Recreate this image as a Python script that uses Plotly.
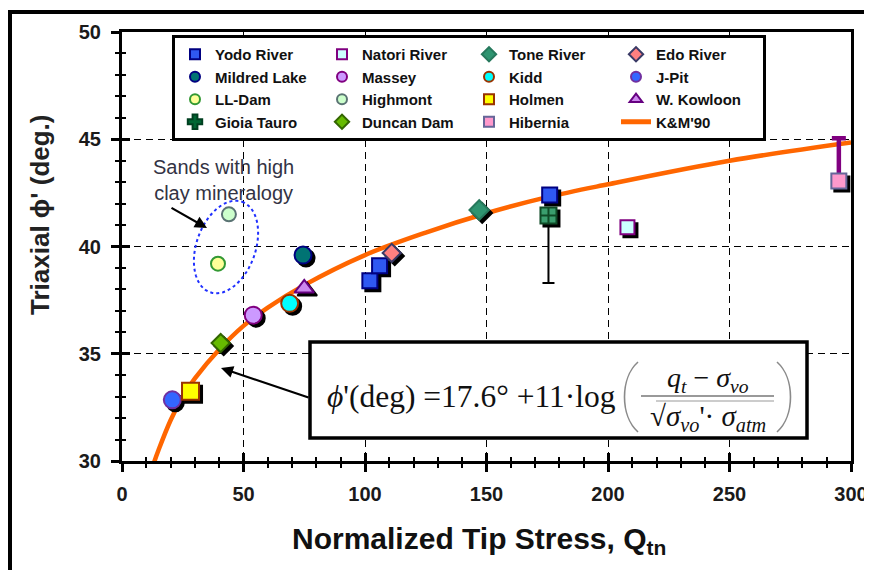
import numpy as np
import plotly.graph_objects as go

# ---------------- data ----------------
yodo_q = [102.0, 106.0, 176.0]
yodo_phi = [38.4, 39.1, 42.4]
natori_q = [208.0]
natori_phi = [40.9]
tone_q = [147.0]
tone_phi = [41.7]
edo_q = [111.0]
edo_phi = [39.7]
mildred_q = [74.5]
mildred_phi = [39.6]
massey_q = [54.0]
massey_phi = [36.8]
kidd_q = [69.0]
kidd_phi = [37.35]
jpit_q = [20.7]
jpit_phi = [32.85]
lldam_q = [39.5]
lldam_phi = [39.2]
highmont_q = [44.0]
highmont_phi = [41.5]
holmen_q = [28.2]
holmen_phi = [33.25]
kowloon_q = [75.0]
kowloon_phi = [38.05]
gioia_q = [175.5]
gioia_phi = [41.45]
gioia_err_minus = [3.15]
duncan_q = [40.6]
duncan_phi = [35.5]
hibernia_q = [295.0]
hibernia_phi = [43.05]
hibernia_err_plus = [2.0]

km90_q = [12.0, 13.4, 15, 20, 25, 30, 40, 50, 60, 75, 100, 125, 150, 175, 200, 250, 300]
km90_phi = [29.5, 30.0, 30.5, 31.9, 33.0, 33.85, 35.2, 36.3, 37.15, 38.2, 39.6,
            40.65, 41.55, 42.3, 42.9, 44.0, 44.85]

x_ticks = [0, 50, 100, 150, 200, 250, 300]
x_ticktext = ["0", "50", "100", "150", "200", "250", "300"]
y_ticks = [30, 35, 40, 45, 50]
y_ticktext = ["30", "35", "40", "45", "50"]
X_RANGE = [0, 300]
Y_RANGE = [30, 50]

# ---------------- geometry ----------------
OFF = 8                      # the page body margin shifts the figure by 8 px
W, H = 872 - OFF, 570 - OFF
L, T = 122 - OFF, 32 - OFF   # plot area starts at (122, 32) in the picture
PW, PH = 732, 432
R = W - L - PW
B = H - T - PH
SH = 3  # shadow offset px
EX = SH / PW
EY = SH / PH
AX_W = PW * (1 - EX)
AX_H = PH * (1 - EY)

SANS = "Liberation Sans, Arial, sans-serif"
SERIF = "Liberation Serif, Times New Roman, serif"


# helpers take picture pixel positions
def dx(px):
    return X_RANGE[0] + (px - OFF - L) * (X_RANGE[1] - X_RANGE[0]) / AX_W


def dy(py):
    return Y_RANGE[1] - (py - OFF - T) * (Y_RANGE[1] - Y_RANGE[0]) / AX_H


def paper_x(px):
    return (px - OFF - L) / PW


def paper_y(py):
    return (H - B - (py - OFF)) / PH


# ---------------- series styles ----------------
S = {
    "Yodo River": dict(q=yodo_q, phi=yodo_phi, symbol="square", size=15, fill="#2F58F2", edge="#000080", shadow=True),
    "Natori River": dict(q=natori_q, phi=natori_phi, symbol="square", size=14, fill="#CCFFFF", edge="#800080", shadow=True),
    "Tone River": dict(q=tone_q, phi=tone_phi, symbol="diamond", size=15, fill="#2E9470", edge="#26785C", shadow=True),
    "Edo River": dict(q=edo_q, phi=edo_phi, symbol="diamond", size=14, fill="#FF8080", edge="#3A3A66", shadow=True),
    "Mildred Lake": dict(q=mildred_q, phi=mildred_phi, symbol="circle", size=17, fill="#007373", edge="#000080", shadow=True),
    "Massey": dict(q=massey_q, phi=massey_phi, symbol="circle", size=17, fill="#CC99FF", edge="#800080", shadow=True),
    "Kidd": dict(q=kidd_q, phi=kidd_phi, symbol="circle", size=17, fill="#00FFFF", edge="#993300", shadow=True),
    "J-Pit": dict(q=jpit_q, phi=jpit_phi, symbol="circle", size=17, fill="#3366FF", edge="#7030A0", shadow=True),
    "LL-Dam": dict(q=lldam_q, phi=lldam_phi, symbol="circle", size=14, fill="#FFFF99", edge="#339933", shadow=False),
    "Highmont": dict(q=highmont_q, phi=highmont_phi, symbol="circle", size=14, fill="#CCFFCC", edge="#5A7373", shadow=False),
    "Holmen": dict(q=holmen_q, phi=holmen_phi, symbol="square", size=17, fill="#FFFF00", edge="#993300", shadow=True),
    "W. Kowloon": dict(q=kowloon_q, phi=kowloon_phi, symbol="triangle-up", size=17, fill="#CC88EE", edge="#660080", shadow=True),
    "Gioia Tauro": dict(q=gioia_q, phi=gioia_phi, symbol="square-cross", size=16, fill="#3A9E6E", edge="#0E4A26", shadow=True),
    "Duncan Dam": dict(q=duncan_q, phi=duncan_phi, symbol="diamond", size=14, fill="#66BB00", edge="#336600", shadow=True),
    "Hibernia": dict(q=hibernia_q, phi=hibernia_phi, symbol="square", size=15, fill="#FF99CC", edge="#666699", shadow=True),
}
LEGEND_ORDER = ["Yodo River", "Natori River", "Tone River", "Edo River",
                "Mildred Lake", "Massey", "Kidd", "J-Pit",
                "LL-Dam", "Highmont", "Holmen", "W. Kowloon",
                "Gioia Tauro", "Duncan Dam", "Hibernia"]
DRAW_ORDER = ["Gioia Tauro", "Yodo River", "Edo River", "Natori River", "Tone River",
              "Mildred Lake", "Massey", "Kidd", "J-Pit", "LL-Dam", "Highmont",
              "Holmen", "W. Kowloon", "Duncan Dam", "Hibernia"]
ERRORS = {
    "Gioia Tauro": dict(type="data", symmetric=False, array=[0], arrayminus=gioia_err_minus,
                        color="black", thickness=2, width=6),
    "Hibernia": dict(type="data", symmetric=False, array=hibernia_err_plus, arrayminus=[0],
                     color="#800080", thickness=4.5, width=7),
}
LEGEND_SIZE = {"triangle-up": 11, "cross": 12, "diamond": 11}

fig = go.Figure()

# K&M'90 curve (base subplot)
fig.add_trace(go.Scatter(x=km90_q, y=km90_phi, mode="lines", line=dict(color="#FF6600", width=4.5, shape="spline"),
                         showlegend=False, hoverinfo="skip", xaxis="x", yaxis="y"))

# shadows (shifted subplot)
for name in DRAW_ORDER:
    s = S[name]
    if not s["shadow"]:
        continue
    fig.add_trace(go.Scatter(x=s["q"], y=s["phi"], mode="markers",
                             marker=dict(symbol=s["symbol"], size=s["size"], color="black",
                                         line=dict(color="black", width=2)),
                             showlegend=False, hoverinfo="skip", xaxis="x2", yaxis="y2"))

# markers (front subplot)
for name in DRAW_ORDER:
    s = S[name]
    kw = {}
    if name in ERRORS:
        kw["error_y"] = ERRORS[name]
    fig.add_trace(go.Scatter(x=s["q"], y=s["phi"], mode="markers", name=name,
                             marker=dict(symbol=s["symbol"], size=s["size"], color=s["fill"],
                                         line=dict(color=s["edge"], width=2)),
                             showlegend=False, xaxis="x3", yaxis="y3", **kw))

# legend-only entries
for name in LEGEND_ORDER:
    s = S[name]
    sym = s["symbol"]
    fill, edge = s["fill"], s["edge"]
    if name == "Gioia Tauro":
        sym, fill, edge = "cross", "#006633", "#004020"
    fig.add_trace(go.Scatter(x=[None], y=[None], mode="markers", name=name,
                             marker=dict(symbol=sym, size=LEGEND_SIZE.get(sym, 10),
                                         color=fill, line=dict(color=edge, width=2)),
                             xaxis="x", yaxis="y"))
fig.add_trace(go.Scatter(x=[None], y=[None], mode="lines", name="K&M'90",
                         line=dict(color="#FF6600", width=5), xaxis="x", yaxis="y"))

tickfont = dict(family=SANS, size=20, color="#1a1a1a", weight="bold")
common_x = dict(range=X_RANGE, tickvals=x_ticks, ticktext=x_ticktext, zeroline=False, fixedrange=True)
common_y = dict(range=Y_RANGE, tickvals=y_ticks, ticktext=y_ticktext, zeroline=False, fixedrange=True)

fig.update_layout(
    width=W, height=H,
    margin=dict(l=L, r=R, t=T, b=B, pad=0, autoexpand=False),
    paper_bgcolor="white", plot_bgcolor="rgba(0,0,0,0)",
    showlegend=True,
    legend=dict(orientation="h", x=paper_x(172), y=paper_y(35), xanchor="left", yanchor="top",
                entrywidth=102, entrywidthmode="pixels", bgcolor="white",
                bordercolor="black", borderwidth=3,
                font=dict(family=SANS, size=15, color="#111111", weight="bold"),
                traceorder="normal", tracegroupgap=0),
    xaxis=dict(domain=[0, 1 - EX], anchor="y", **common_x,
               showgrid=True, gridcolor="black", griddash="7px,5px", gridwidth=1.3,
               showline=True, linecolor="black", linewidth=3, mirror=True,
               ticks="outside", ticklen=8, tickwidth=3, tickcolor="black",
               minor=dict(tick0=0, dtick=10, ticks="outside", ticklen=4, tickwidth=2,
                          tickcolor="black", showgrid=False),
               tickfont=tickfont, ticklabelstandoff=5),
    yaxis=dict(domain=[EY, 1], anchor="x", **common_y,
               showgrid=True, gridcolor="black", griddash="7px,5px", gridwidth=1.3,
               showline=True, linecolor="black", linewidth=3, mirror=True,
               ticks="outside", ticklen=8, tickwidth=3, tickcolor="black",
               minor=dict(tick0=30, dtick=1, ticks="outside", ticklen=4, tickwidth=2,
                          tickcolor="black", showgrid=False),
               tickfont=tickfont, ticklabelstandoff=6),
    xaxis2=dict(domain=[EX, 1], anchor="y2", range=X_RANGE, visible=False, fixedrange=True),
    yaxis2=dict(domain=[0, 1 - EY], anchor="x2", range=Y_RANGE, visible=False, fixedrange=True),
    xaxis3=dict(domain=[0, 1 - EX], anchor="y3", **common_x, showgrid=False, showline=False,
                ticks="inside", ticklen=8, tickwidth=3, tickcolor="black", showticklabels=False,
                minor=dict(tick0=0, dtick=10, ticks="inside", ticklen=4, tickwidth=2,
                           tickcolor="black", showgrid=False)),
    yaxis3=dict(domain=[EY, 1], anchor="x3", **common_y, showgrid=False, showline=False,
                ticks="inside", ticklen=8, tickwidth=3, tickcolor="black", showticklabels=False,
                minor=dict(tick0=30, dtick=1, ticks="inside", ticklen=4, tickwidth=2,
                           tickcolor="black", showgrid=False)),
)

shapes = []
# outer frame
shapes.append(dict(type="rect", xref="paper", yref="paper", x0=paper_x(10), x1=paper_x(900),
                   y0=paper_y(600), y1=paper_y(12), line=dict(color="black", width=4),
                   fillcolor="rgba(0,0,0,0)", layer="below"))
# equation box
shapes.append(dict(type="rect", xref="x", yref="y", x0=dx(310), x1=dx(807), y0=dy(438), y1=dy(342),
                   line=dict(color="black", width=3.5), fillcolor="white", layer="above"))
# parentheses
shapes.append(dict(type="path", xref="x", yref="y", layer="above",
                   path=f"M {dx(638)},{dy(362)} C {dx(620)},{dy(378)} {dx(620)},{dy(416)} {dx(638)},{dy(432)}",
                   line=dict(color="#8a8a8a", width=1.6)))
shapes.append(dict(type="path", xref="x", yref="y", layer="above",
                   path=f"M {dx(777)},{dy(362)} C {dx(795)},{dy(378)} {dx(795)},{dy(416)} {dx(777)},{dy(432)}",
                   line=dict(color="#8a8a8a", width=1.6)))
# fraction bar and radical overline
shapes.append(dict(type="line", xref="x", yref="y", layer="above", x0=dx(641), x1=dx(774), y0=dy(396), y1=dy(396),
                   line=dict(color="#777777", width=1.4)))
shapes.append(dict(type="line", xref="x", yref="y", layer="above", x0=dx(656), x1=dx(774), y0=dy(401), y1=dy(401),
                   line=dict(color="#999999", width=1.2)))
# dotted ellipse around clay-rich sands
cx, cy, a, b, th = 226, 247, 48, 29.5, np.deg2rad(19.6)
t = np.linspace(0, 2 * np.pi, 73)
ex = cx + a * np.sin(th) * np.cos(t) + b * np.cos(th) * np.sin(t)
ey = cy - a * np.cos(th) * np.cos(t) + b * np.sin(th) * np.sin(t)
path = "M " + " L ".join(f"{dx(u):.3f},{dy(v):.3f}" for u, v in zip(ex, ey)) + " Z"
shapes.append(dict(type="path", xref="x", yref="y", path=path, layer="above",
                   line=dict(color="#2030FF", width=2, dash="dot")))
fig.update_layout(shapes=shapes)

ann = []
ann.append(dict(text="Normalized Tip Stress, Q<sub>tn</sub>", xref="paper", yref="paper",
                x=paper_x(479), y=paper_y(540), xanchor="center", yanchor="middle", showarrow=False,
                font=dict(family=SANS, size=30, color="#111111", weight="bold")))
ann.append(dict(text="Triaxial ϕ' (deg.)", xref="paper", yref="paper", textangle=-90,
                x=paper_x(40), y=paper_y(215), xanchor="center", yanchor="middle", showarrow=False,
                font=dict(family=SANS, size=26, color="#222222", weight="bold")))
ann.append(dict(text="Sands with high<br>clay mineralogy", xref="x", yref="y", x=dx(223), y=dy(180),
                xanchor="center", yanchor="middle", showarrow=False, align="center",
                font=dict(family=SANS, size=20, color="#333344")))
ann.append(dict(text="", xref="x", yref="y", x=dx(207), y=dy(228), axref="x", ayref="y",
                ax=dx(170), ay=dy(207), showarrow=True, arrowhead=2, arrowsize=1.1,
                arrowwidth=2.2, arrowcolor="black"))
ann.append(dict(text="", xref="x", yref="y", x=dx(221), y=dy(368), axref="x", ayref="y",
                ax=dx(310), ay=dy(398), showarrow=True, arrowhead=2, arrowsize=1.1,
                arrowwidth=2.2, arrowcolor="black"))
ann.append(dict(text="<i>ϕ</i>'(deg) =17.6° +11·log", xref="x", yref="y", x=dx(325), y=dy(396),
                xanchor="left", yanchor="middle", showarrow=False,
                font=dict(family=SERIF, size=31.5, color="#111111")))
ann.append(dict(text="<i>q<sub>t</sub></i> − <i>σ<sub>vo</sub></i>", xref="x", yref="y", x=dx(708), y=dy(379),
                xanchor="center", yanchor="middle", showarrow=False,
                font=dict(family=SERIF, size=28, color="#111111")))
ann.append(dict(text="√<i>σ<sub>vo</sub></i>'· <i>σ<sub>atm</sub></i>", xref="x", yref="y", x=dx(708), y=dy(418),
                xanchor="center", yanchor="middle", showarrow=False,
                font=dict(family=SERIF, size=29, color="#111111")))
fig.update_layout(annotations=ann)

fig.write_html("out.html")
